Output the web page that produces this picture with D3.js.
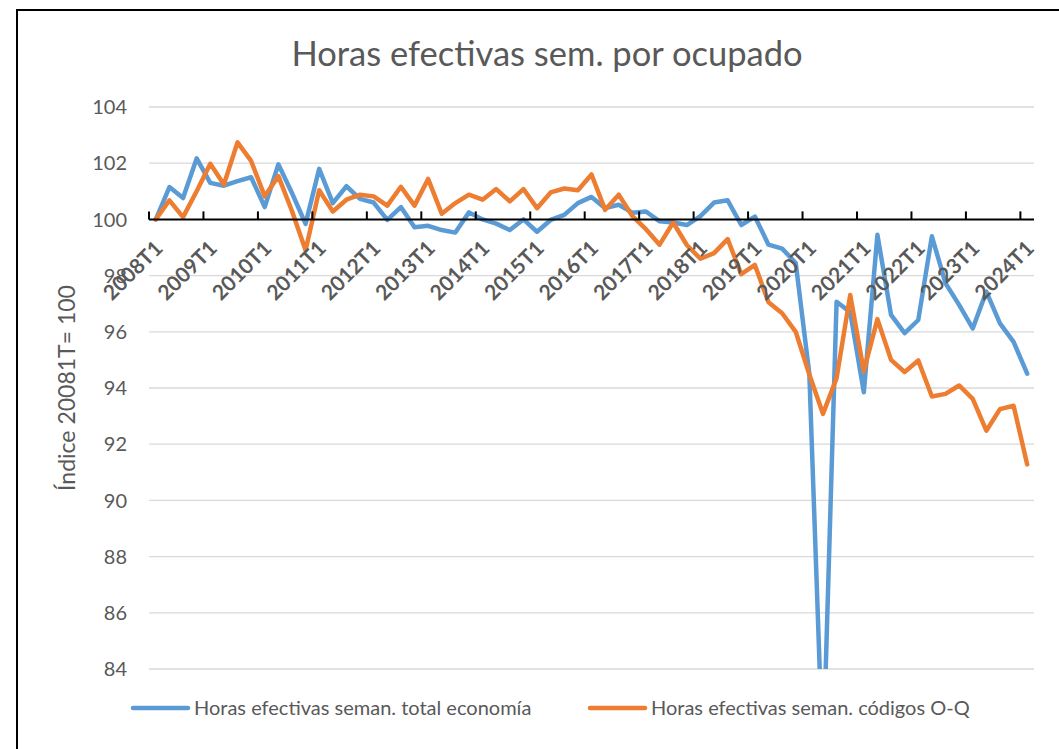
<!DOCTYPE html>
<html>
<head>
<meta charset="utf-8">
<script src="https://cdn.jsdelivr.net/npm/d3@7"></script>
<style>
  body { margin: 0; background: #fff; }
  text { font-family: Lato, "Open Sans", sans-serif; fill: #595959; }
</style>
</head>
<body>
<script>
// quarters 2008T1 .. 2024T1
const years = d3.range(2008, 2025);
const categories = [];
years.forEach(function (y) {
  for (let q = 1; q <= 4; q++) categories.push(y + "T" + q);
});
categories.splice(65);

const tickLabels = ["2008T1", "2009T1", "2010T1", "2011T1", "2012T1", "2013T1", "2014T1", "2015T1",
  "2016T1", "2017T1", "2018T1", "2019T1", "2020T1", "2021T1", "2022T1", "2023T1", "2024T1"];

const yTicks = [84, 86, 88, 90, 92, 94, 96, 98, 100, 102, 104];

// Horas efectivas seman. total economía
const totalEconomia = [
  100.0, 101.15, 100.76, 102.17, 101.3, 101.2, 101.36, 101.5,
  100.44, 101.96, 100.94, 99.84, 101.8, 100.58, 101.18, 100.73,
  100.6, 99.98, 100.44, 99.72, 99.77, 99.62, 99.53, 100.25,
  100.0, 99.85, 99.62, 100.0, 99.56, 99.98, 100.16, 100.58,
  100.8, 100.4, 100.52, 100.24, 100.28, 99.93, 99.89, 99.8,
  100.12, 100.6, 100.68, 99.8, 100.1, 99.1, 98.96, 98.45,
  94.5, 80.7, 97.07, 96.7, 93.85, 99.45, 96.6, 95.95,
  96.42, 99.4, 97.73, 96.96, 96.12, 97.43, 96.3, 95.64,
  94.51
];

// Horas efectivas seman. códigos O-Q
const codigosOQ = [
  100.0, 100.68, 100.08, 101.0, 101.98, 101.24, 102.74, 102.08,
  100.82, 101.54, 100.3, 98.9, 101.04, 100.28, 100.7, 100.88,
  100.82, 100.49, 101.16, 100.49, 101.44, 100.2, 100.58, 100.88,
  100.7, 101.08, 100.64, 101.08, 100.4, 100.96, 101.1, 101.04,
  101.6, 100.34, 100.88, 100.12, 99.65, 99.1, 99.89, 99.09,
  98.6, 98.8, 99.3, 98.05, 98.38, 97.05, 96.66, 96.0,
  94.48, 93.08, 94.35, 97.31, 94.6, 96.45, 95.0, 94.57,
  94.98, 93.7, 93.79, 94.09, 93.61, 92.48, 93.25, 93.37,
  91.28
];

const seriesNames = ["Horas efectivas seman. total economía", "Horas efectivas seman. códigos O-Q"];
const seriesColors = ["#5b9bd5", "#ed7d31"];

const W = 1059, H = 749;
const plot = { left: 149, right: 1034, top: 107, bottom: 669 };

const svg = d3.select("body").append("svg")
  .attr("width", W).attr("height", H);

// chart frame (only left and top visible)
svg.append("rect")
  .attr("x", 17).attr("y", 10)
  .attr("width", W + 20).attr("height", H + 20)
  .attr("fill", "none").attr("stroke", "#000").attr("stroke-width", 2);

const x = d3.scaleBand().domain(categories).range([plot.left, plot.right]).padding(0);
const y = d3.scaleLinear().domain([84, 104]).range([plot.bottom, plot.top]);
const cx = d => x(d) + x.bandwidth() / 2;

// title
svg.append("text")
  .attr("x", 547).attr("y", 66)
  .attr("text-anchor", "middle")
  .style("font-size", "34.5px")
  .text("Horas efectivas sem. por ocupado");

// gridlines + y labels
svg.append("g").selectAll("line").data(yTicks.filter(t => t !== 100)).join("line")
  .attr("x1", plot.left).attr("x2", plot.right)
  .attr("y1", d => y(d)).attr("y2", d => y(d))
  .attr("stroke", "#d9d9d9").attr("stroke-width", 1.3);

svg.append("g").selectAll("text").data(yTicks).join("text")
  .attr("x", 127).attr("y", d => y(d))
  .attr("dy", "0.36em")
  .attr("text-anchor", "end")
  .style("font-size", "20px")
  .text(d => d);

// y title
svg.append("text")
  .attr("transform", "translate(75," + ((plot.top + plot.bottom) / 2) + ") rotate(-90)")
  .attr("text-anchor", "middle")
  .style("font-size", "23px")
  .text("Índice 20081T= 100");

// lines
svg.append("clipPath").attr("id", "clip")
  .append("rect")
  .attr("x", plot.left).attr("y", plot.top)
  .attr("width", plot.right - plot.left).attr("height", plot.bottom - plot.top);

const line = d3.line()
  .x((d, i) => cx(categories[i]))
  .y(d => y(d));

const g = svg.append("g").attr("clip-path", "url(#clip)");
[totalEconomia, codigosOQ].forEach(function (s, k) {
  g.append("path")
    .datum(s)
    .attr("d", line)
    .attr("fill", "none")
    .attr("stroke", seriesColors[k])
    .attr("stroke-width", 4.5)
    .attr("stroke-linejoin", "round")
    .attr("stroke-linecap", "round");
});

// x axis crossing at 100
const y100 = y(100);
svg.append("line")
  .attr("x1", plot.left).attr("x2", plot.right)
  .attr("y1", y100).attr("y2", y100)
  .attr("stroke", "#000").attr("stroke-width", 2);

svg.append("g").selectAll("line").data(tickLabels).join("line")
  .attr("x1", d => x(d)).attr("x2", d => x(d))
  .attr("y1", y100).attr("y2", y100 - 8)
  .attr("stroke", "#000").attr("stroke-width", 2);

svg.append("g").selectAll("text").data(tickLabels).join("text")
  .attr("transform", d => "translate(" + (cx(d) + 3) + "," + (y100 + 25) + ") rotate(-45)")
  .attr("text-anchor", "end")
  .attr("dy", "0.35em")
  .style("font-size", "21px")
  .style("font-weight", "bold")
  .text(d => d);

// legend
const legendX = [133, 590];
seriesNames.forEach(function (name, k) {
  svg.append("line")
    .attr("x1", legendX[k]).attr("x2", legendX[k] + 55)
    .attr("y1", 708).attr("y2", 708)
    .attr("stroke", seriesColors[k]).attr("stroke-width", 4.5)
    .attr("stroke-linecap", "round");
  svg.append("text")
    .attr("x", legendX[k] + 61).attr("y", 708)
    .attr("dy", "0.35em")
    .style("font-size", "20px")
    .text(name);
});
</script>
</body>
</html>
